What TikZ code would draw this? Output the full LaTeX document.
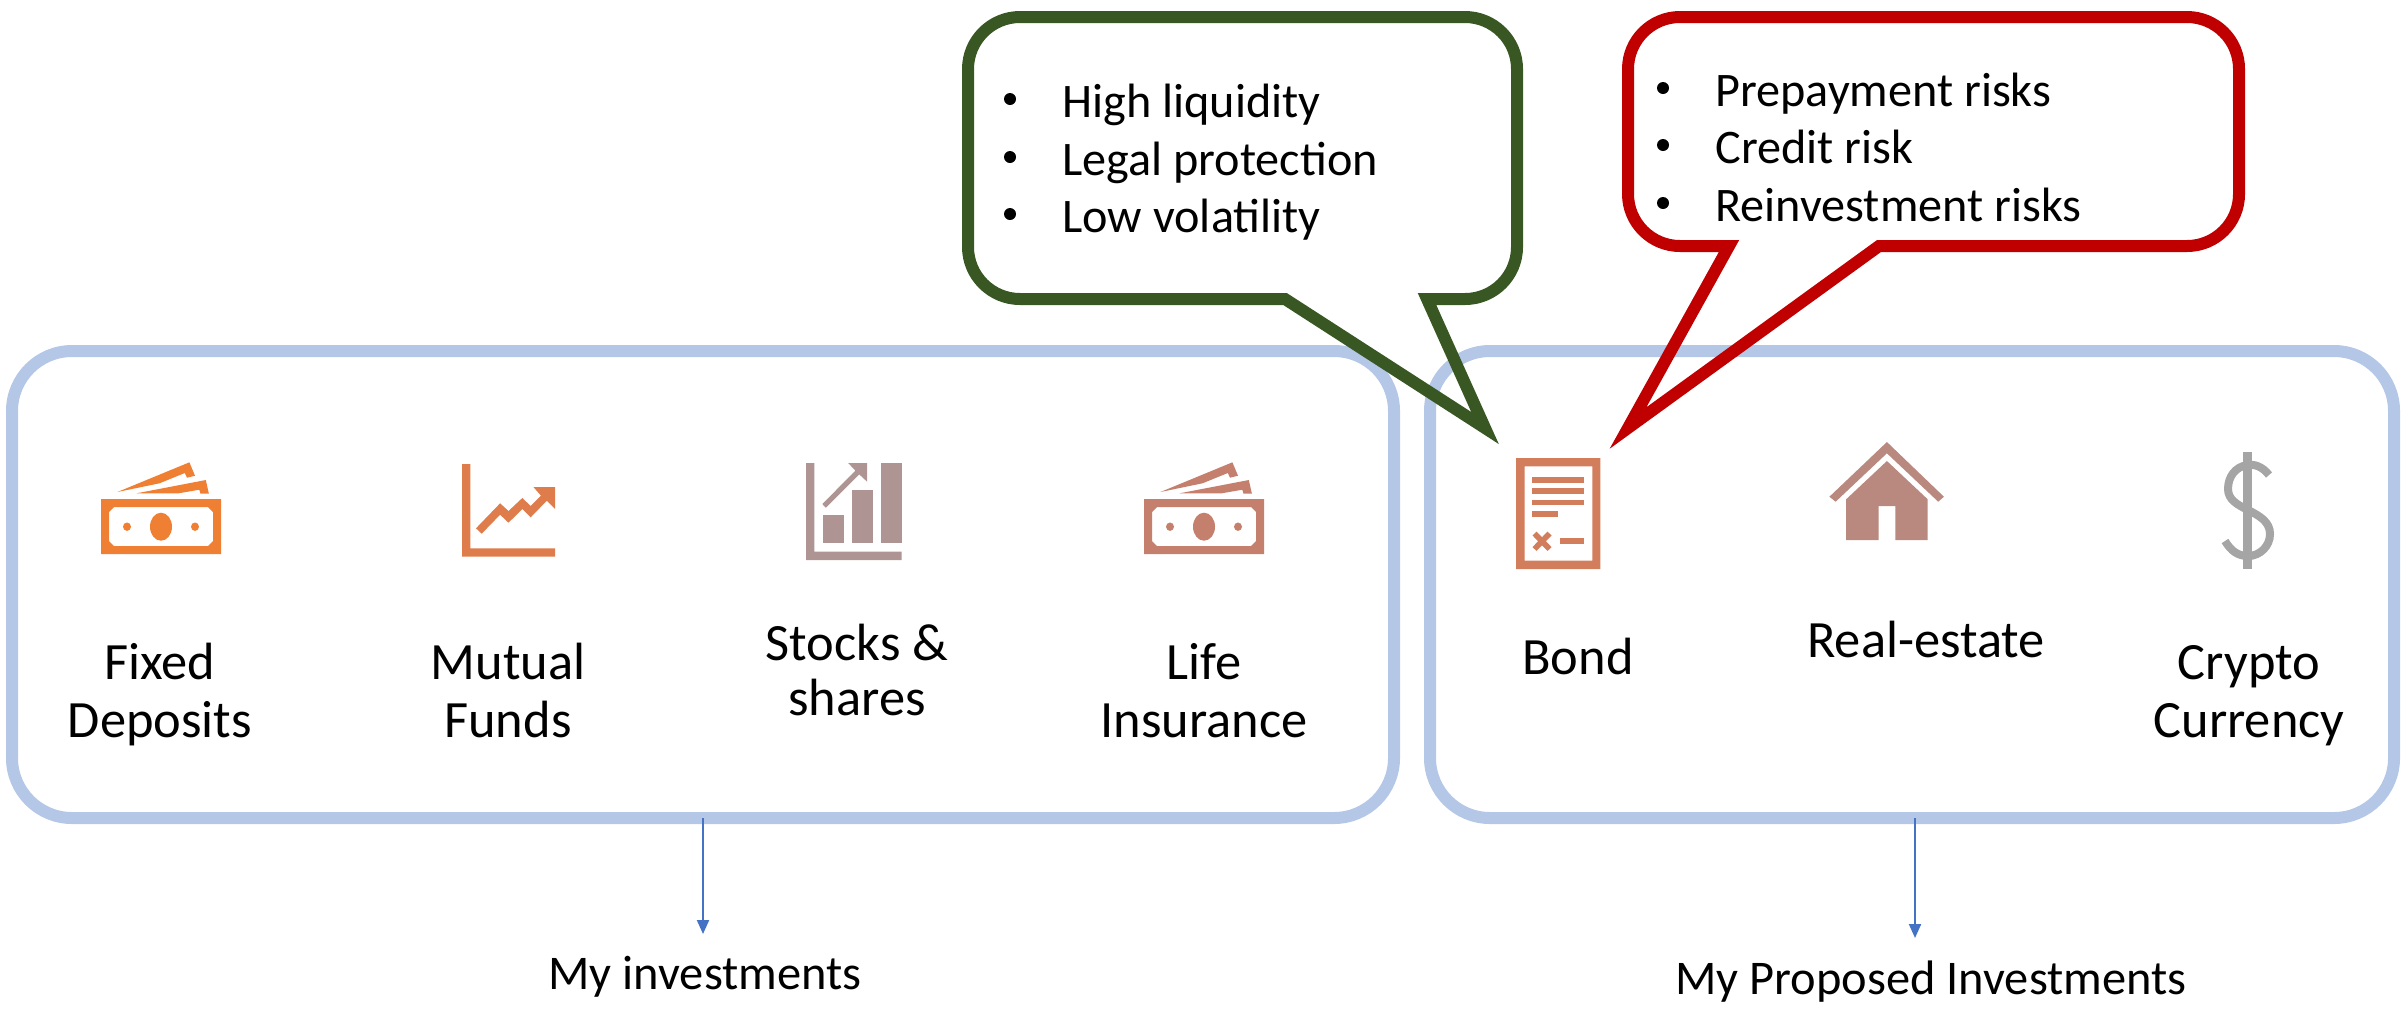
\documentclass[tikz,border=0pt]{standalone}
\usepackage{fontspec}
\setmainfont{Carlito}
\usetikzlibrary{arrows.meta,calc}
\definecolor{boxblue}{HTML}{B4C7E7}
\definecolor{arrowblue}{HTML}{4472C4}
\definecolor{calloutgreen}{HTML}{385723}
\definecolor{calloutred}{HTML}{C00000}
\definecolor{cfixed}{HTML}{EF8033}
\definecolor{cchart}{HTML}{DF7C4B}
\definecolor{cstock}{HTML}{AE9492}
\definecolor{clife}{HTML}{C47F6D}
\definecolor{cbond}{HTML}{D27D5C}
\definecolor{chouse}{HTML}{B9887E}
\definecolor{cdollar}{HTML}{A5A5A5}
\tikzset{
  invbox/.style={draw=boxblue,line width=6pt,rounded corners=30pt,minimum width=#1,minimum height=233.5pt,outer sep=0pt,inner sep=0pt},
  callout/.style={draw=#1,line width=6pt,miter limit=30,line join=miter},
  txt/.style={font=\fontsize{26.2}{29}\selectfont,align=center,inner sep=0pt,text=black},
  listtxt/.style={font=\fontsize{24.1}{29}\selectfont,anchor=base west,inner sep=0pt,text=black},
  bul/.style={circle,fill=black,minimum size=6pt,inner sep=0pt},
  caption/.style={font=\fontsize{24.2}{29}\selectfont,inner sep=0pt,text=black},
  conn/.style={draw=arrowblue,line width=1pt,-{Triangle[length=7pt,width=6pt]}}
}
\newcommand{\moneyicon}[1]{%
  \fill[#1,even odd rule] (101,499) rectangle (221,554)
    (114,507) -- (208,507) -- (213,512) -- (213,541) -- (208,546) -- (114,546) -- (109,541) -- (109,512) -- cycle;
  \fill[#1] (161,526.7) ellipse [x radius=11,y radius=14];
  \fill[#1] (127,526.7) ellipse [x radius=4,y radius=4.2];
  \fill[#1] (195,526.7) ellipse [x radius=4,y radius=4.2];
  \fill[#1] (117.4,492) -- (189.4,462.3) -- (195,475.7) -- (187,477.7) -- (184.8,473) -- (159.5,483.3) -- cycle;
  \fill[#1] (136.5,493.3) -- (205.8,480) -- (208.9,493.7) -- (200.5,493.7) -- (199.3,489.7) -- (178.6,493.3) -- cycle;
}
\begin{document}
\begin{tikzpicture}[x=0.5pt,y=-0.5pt]
\useasboundingbox (0,0) rectangle (2407,1009);
% boxes
\node[invbox=691pt] (box1) at (703,584.5) {};
\node[invbox=482pt] (box2) at (1912,584.5) {};
% callouts
\draw[callout=calloutgreen] (1285,299) -- (1485,428) -- (1427,299)
  {[rounded corners=26pt] -- (1517,299) -- (1517,17) -- (968,17) -- (968,299)} -- cycle;
\draw[callout=calloutred] (1729,246) -- (1628,428) -- (1879,246)
  {[rounded corners=26pt] -- (2239,246) -- (2239,17) -- (1628,17) -- (1628,246)} -- cycle;
% icons
\moneyicon{cfixed}
\begin{scope}[shift={(1043,0)}]\moneyicon{clife}\end{scope}
% chart
\fill[cchart] (462.2,464) -- (470.3,464) -- (470.3,548.3) -- (555.2,548.3) -- (555.2,556.7) -- (462.2,556.7) -- cycle;
\fill[cchart] (476,528.3) -- (500.1,503.3) -- (508.5,511) -- (522.3,498) -- (530.7,506) -- (541,495.7) -- (533.4,487) -- (555.2,487) -- (555.2,509) -- (546.8,500.7) -- (530.7,517.3) -- (522.3,509) -- (508.5,522.7) -- (500.1,514.7) -- (481.7,533.7) -- cycle;
% stocks
\fill[cstock] (806.1,463) -- (814.4,463) -- (814.4,551.7) -- (901.5,551.7) -- (901.5,560) -- (806.1,560) -- cycle;
\fill[cstock] (823,515) rectangle (844,543);
\fill[cstock] (851.6,490.3) rectangle (872.6,543);
\fill[cstock] (880.5,463) rectangle (901.5,543);
\fill[cstock] (822.3,504) -- (855.4,470.7) -- (848.2,463) -- (867.1,463) -- (867.1,481.7) -- (859.2,474.3) -- (825.8,507.7) -- cycle;
% bond
\fill[cbond,even odd rule] (1516,458) rectangle (1600.3,569) (1524.5,466.3) rectangle (1592.4,560.7);
\fill[cbond] (1531.8,477.3) rectangle (1584,483);
\fill[cbond] (1531.8,488) rectangle (1584,494);
\fill[cbond] (1531.8,499.7) rectangle (1584,505.3);
\fill[cbond] (1531.8,511) rectangle (1558,517);
\fill[cbond] (1559.5,538.3) rectangle (1584,544);
\draw[cbond,line width=2.8pt] (1534.5,533.5) -- (1549.5,549) (1549.5,533.5) -- (1534.5,549);
% house
\fill[chouse] (1829.4,496.7) -- (1886.9,442) -- (1943.9,496.7) -- (1938.2,501.7) -- (1886.9,453.3) -- (1835.6,501.7) -- cycle;
\fill[chouse] (1846.1,499.3) -- (1886.9,461) -- (1927.7,499.3) -- (1927.7,540) -- (1895.3,540) -- (1895.3,506) -- (1878.5,506) -- (1878.5,540) -- (1846.1,540) -- cycle;
% dollar
\fill[cdollar] (2243,451.7) rectangle (2251.5,569);
\draw[cdollar,line width=4pt] (2269,475) .. controls (2262,466) and (2254,464) .. (2247,465)
  .. controls (2235,467) and (2228,477) .. (2228,489)
  .. controls (2228,500) and (2238,505) .. (2248,510)
  .. controls (2260,516) and (2270,522) .. (2270,534)
  .. controls (2270,546) and (2260,556) .. (2248,556)
  .. controls (2238,556) and (2231,551) .. (2225,541);
% labels
\node[txt,anchor=center] (fd) at (160,697) {\strut Fixed\\\strut Deposits};
\node[txt,anchor=center] (mf) at (508,697) {\strut Mutual\\\strut Funds};
\node[txt,anchor=center] (ss) at (857,676) {\strut Stocks \&\\[-1.5pt]\strut shares};
\node[txt,anchor=center] (li) at (1204,697) {\strut Life\\\strut Insurance};
\node[txt,anchor=center] (bd) at (1578,663) {\strut Bond};
\node[txt,anchor=center] (re) at (1926,646) {\strut Real-estate};
\node[txt,anchor=center] (cc) at (2249,697) {\strut Crypto\\\strut Currency};
% lists
\foreach \n/\y/\t in {a/117/High liquidity,b/175/Legal protection,c/232/Low volatility}{
  \node[bul] (gb\n) at (1010,\y-18) {};
  \node[listtxt] (gt\n) at (1062,\y) {\t};
}
\foreach \n/\y/\t in {a/106/Prepayment risks,b/163/Credit risk,c/221/Reinvestment risks}{
  \node[bul] (rb\n) at (1663,\y-18) {};
  \node[listtxt] (rt\n) at (1715,\y) {\t};
}
% captions
\node[caption] (cap1) at (705,976.5) {My investments};
\node[caption] (cap2) at (1931,982) {My Proposed Investments};
\coordinate (start2) at ($(box2.south)+(3,0)$);
\coordinate (end1) at (box1.south |- 0,934);
\coordinate (end2) at (start2 |- 0,938);
\draw[conn] (box1.south) -- (end1);
\draw[conn] (start2) -- (end2);
\end{tikzpicture}
\end{document}
